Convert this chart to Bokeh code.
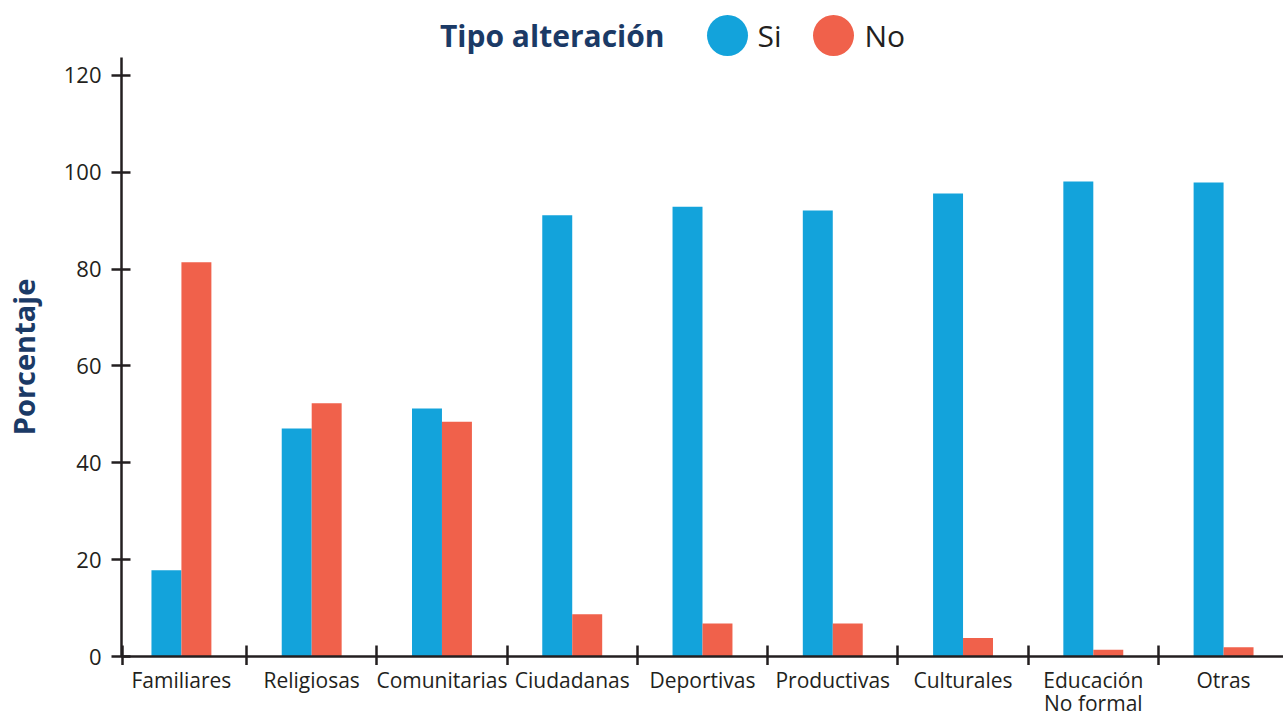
from bokeh.plotting import figure
from bokeh.models import Range1d, FixedTicker, ColumnDataSource
from bokeh.layouts import column
from bokeh.embed import file_html
from bokeh.resources import INLINE
from bokeh.core.properties import value

categories = ["Familiares", "Religiosas", "Comunitarias", "Ciudadanas", "Deportivas",
              "Productivas", "Culturales", "Educación\nNo formal", "Otras"]
si_values = [17.8, 47.1, 51.2, 91.1, 92.9, 92.1, 95.6, 98.1, 97.9]
no_values = [81.4, 52.3, 48.5, 8.7, 6.8, 6.8, 3.8, 1.4, 1.9]
y_ticks = [0, 20, 40, 60, 80, 100, 120]
legend_title = "Tipo alteración"
series_names = ["Si", "No"]

BLUE = "#13A3DB"
RED = "#F0614B"
NAVY = "#1B3A66"
DARK = "#231F20"
FONT = "Open Sans"

W = 1283
TOTAL_H = 711
HEADER_H = 57
FRAME_H = 599
MAIN_BOTTOM = 9
MAIN_H = FRAME_H + MAIN_BOTTOM
FOOTER_H = TOTAL_H - HEADER_H - MAIN_H
LEFT = 121
LABEL_PX = 21
LINE_H = 23

# ---------- header (legend) ----------
hdr = figure(width=W, height=HEADER_H, x_range=Range1d(LEFT, W), y_range=Range1d(0, HEADER_H),
             output_backend="svg", toolbar_location=None,
             min_border_left=LEFT, min_border_right=0, min_border_top=0, min_border_bottom=0)
hdr.axis.visible = False
hdr.grid.visible = False
hdr.outline_line_color = None
cy = HEADER_H - 35
hdr.text(x=[664], y=[cy], text=[legend_title], text_font=value(FONT),
         text_font_style="bold", text_font_size="30px", text_color=NAVY,
         text_align="right", text_baseline="middle")
hdr.scatter(x=[727, 833], y=[cy, cy], size=41, color=[BLUE, RED], line_color=None)
hdr.text(x=[757, 864], y=[cy, cy], text=series_names, text_font=value(FONT),
         text_font_size="30px", text_color=DARK, text_align="left", text_baseline="middle")

# ---------- main chart ----------
n = len(categories)
idx = list(range(n))
src = ColumnDataSource(dict(
    x_si=[i - 0.115 for i in idx], x_no=[i + 0.115 for i in idx],
    si=si_values, no=no_values))

x_start, x_end = -0.46, 8.46
xr = Range1d(x_start, x_end)
p = figure(width=W, height=MAIN_H, x_range=xr, y_range=Range1d(0, 123.7),
           output_backend="svg", toolbar_location=None,
           min_border_left=LEFT, min_border_right=0, min_border_top=0,
           min_border_bottom=MAIN_BOTTOM)
p.grid.visible = False
p.outline_line_color = None

p.vbar(x="x_si", top="si", bottom=0, width=0.23, source=src, color=BLUE, line_color=None)
p.vbar(x="x_no", top="no", bottom=0, width=0.23, source=src, color=RED, line_color=None)

# y axis
p.yaxis.ticker = FixedTicker(ticks=y_ticks)
p.yaxis.axis_line_color = DARK
p.yaxis.axis_line_width = 2.5
p.yaxis.major_tick_line_color = DARK
p.yaxis.major_tick_line_width = 2.5
p.yaxis.major_tick_in = 9
p.yaxis.major_tick_out = 10
p.yaxis.minor_tick_line_color = None
p.yaxis.major_label_text_font = FONT
p.yaxis.major_label_text_font_size = "22px"
p.yaxis.major_label_text_color = DARK
p.yaxis.major_label_standoff = 10
p.yaxis.axis_label = "Porcentaje"
p.yaxis.axis_label_text_font = FONT
p.yaxis.axis_label_text_font_style = "bold"
p.yaxis.axis_label_text_font_size = "29px"
p.yaxis.axis_label_text_color = NAVY
p.yaxis.axis_label_standoff = 18

# x axis: ticks at category boundaries
p.xaxis.ticker = FixedTicker(ticks=[], minor_ticks=[x_start + 0.005] + [i + 0.5 for i in idx[:-1]])
p.xaxis.axis_line_color = DARK
p.xaxis.axis_line_width = 2.5
p.xaxis.major_tick_line_color = None
p.xaxis.major_label_text_font_size = "0px"
p.xaxis.major_label_standoff = 0
p.xaxis.minor_tick_line_color = DARK
p.xaxis.minor_tick_line_width = 2.5
p.xaxis.minor_tick_in = 11
p.xaxis.minor_tick_out = MAIN_BOTTOM

# ---------- footer: category labels (one entry per text line) ----------
ftr = figure(width=W, height=FOOTER_H, x_range=xr, y_range=Range1d(0, FOOTER_H),
             output_backend="svg", toolbar_location=None,
             min_border_left=LEFT, min_border_right=0, min_border_top=0, min_border_bottom=0)
ftr.axis.visible = False
ftr.grid.visible = False
ftr.outline_line_color = None
first_line_y = TOTAL_H - 679.5
lx, ly, lt = [], [], []
for i, c in zip(idx, categories):
    for k, line in enumerate(c.split("\n")):
        lx.append(i)
        ly.append(first_line_y - k * LINE_H)
        lt.append(line)
ftr.text(x=lx, y=ly, text=lt, text_font=value(FONT),
         text_font_size=f"{LABEL_PX}px", text_color=DARK, text_align="center",
         text_baseline="middle")

layout = column(hdr, p, ftr, spacing=0)
open("out.html", "w").write(file_html(layout, INLINE))
